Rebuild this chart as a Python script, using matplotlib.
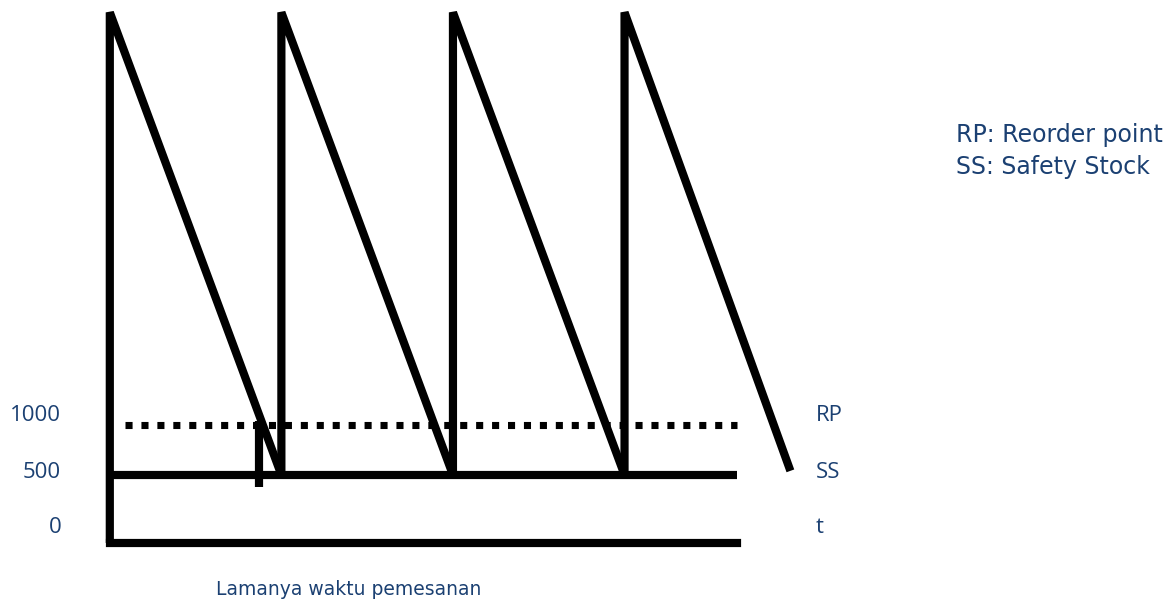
import matplotlib.pyplot as plt

# inventory sketch: time in days, stock in units
peak_t = [0, 30, 60, 90]          # moments of replenishment (vertical jumps)
start_q = [0, 500, 500, 500]      # stock just before each replenishment
trough_t = [30, 60, 90, 119]      # where each cycle runs down
trough_q = [500, 500, 500, 530]
peak_q = 3900
safety_stock = 500
reorder_point = 870
rp_start = 2.6
line_end = 109.6
lead_t = 26
lead_q = [900, 410]

level_labels = ["1000", "500", "0"]
level_label_q = [940, 520, 110]
side_labels = ["RP", "SS", "t"]
legend_lines = ["RP: Reorder point", "SS: Safety Stock"]
legend_q = [3000, 2765]
xlabel = "Lamanya waktu pemesanan"

txt = "#1b4072"
lw = 5.9
plt.rcParams["font.family"] = ["Open Sans", "DejaVu Sans"]

fig = plt.figure(figsize=(11.73, 6.02), dpi=100)
ax = fig.add_axes([0, 0, 1, 1])
ax.set_xlim(-19.2, 185.9)
ax.set_ylim(-434, 3991)
ax.axis("off")

# time axis
ax.plot([0, line_end], [0, 0], color="black", lw=lw, solid_capstyle="projecting")
# safety stock and reorder point
ax.plot([0, line_end], [safety_stock] * 2, color="black", lw=lw, solid_capstyle="butt")
ax.plot([rp_start, line_end], [reorder_point] * 2, color="black", lw=5.1,
        linestyle=(0, (1.0, 1.25)))
# sawtooth
for p, s, t, q in zip(peak_t, start_q, trough_t, trough_q):
    ax.plot([p, p, t], [s, peak_q, q], color="black", lw=lw,
            solid_capstyle="butt", solid_joinstyle="bevel")
# lead time marker
ax.plot([lead_t, lead_t], lead_q, color="black", lw=lw, solid_capstyle="butt")

for s, q in zip(level_labels, level_label_q):
    ax.text(-8.5, q, s, ha="right", va="center", fontsize=16, color=txt)
for s, q in zip(side_labels, level_label_q):
    ax.text(123.5, q, s, ha="left", va="center", fontsize=16, color=txt)

# legend + axis caption in a wider face, like the original
for s, q in zip(legend_lines, legend_q):
    ax.text(148, q, s, ha="left", va="center", fontsize=17, color=txt,
            family="DejaVu Sans")
ax.text(18.5, -345, xlabel, ha="left", va="center", fontsize=13.5, color=txt,
        family="DejaVu Sans")

fig.savefig("out.png", dpi=100)
